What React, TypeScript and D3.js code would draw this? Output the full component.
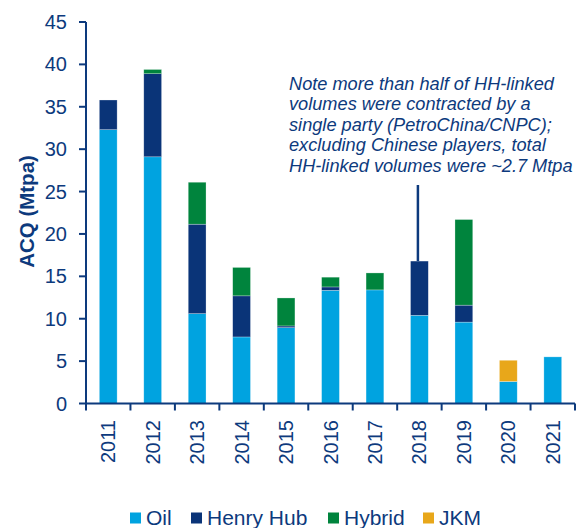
import React from "react";
import * as d3 from "d3";

const years = ["2011", "2012", "2013", "2014", "2015", "2016", "2017", "2018", "2019", "2020", "2021"];
const oil = [32.3, 29.1, 10.6, 7.85, 8.95, 13.35, 13.4, 10.4, 9.6, 2.6, 5.5];
const henryHub = [3.5, 9.8, 10.55, 4.85, 0.2, 0.4, 0, 6.4, 2.0, 0, 0];
const hybrid = [0, 0.5, 4.95, 3.35, 3.3, 1.15, 2.0, 0, 10.1, 0, 0];
const jkm = [0, 0, 0, 0, 0, 0, 0, 0, 0, 2.5, 0];
const seriesNames = ["Oil", "Henry Hub", "Hybrid", "JKM"];
const colors = ["#00a3e0", "#0a3478", "#00843d", "#e8a71a"];
const yTicks = [0, 5, 10, 15, 20, 25, 30, 35, 40, 45];
const note = [
  "Note more than half of HH-linked",
  "volumes were contracted by a",
  "single party (PetroChina/CNPC);",
  "excluding Chinese players, total",
  "HH-linked volumes were ~2.7 Mtpa",
];

const navy = "#0d3a7d";
const font = "'Liberation Sans', Arial, sans-serif";

const App = () => {
  const left = 86, right = 575, top = 22, bottom = 403.5;
  const x = d3.scaleBand().domain(years).range([left, right]).paddingInner(0.6).paddingOuter(0.3);
  const y = d3.scaleLinear().domain([0, 45]).range([bottom, top]);

  const rows = years.map((yr, i) => ({ year: yr, Oil: oil[i], "Henry Hub": henryHub[i], Hybrid: hybrid[i], JKM: jkm[i] }));
  const stacked = d3.stack().keys(seriesNames)(rows as any);

  const step = (right - left) / years.length;
  const boundaries = d3.range(years.length + 1).map((i) => left + i * step);
  const noteYear = "2018";
  const noteIdx = years.indexOf(noteYear);
  const noteTop = oil[noteIdx] + henryHub[noteIdx] + hybrid[noteIdx] + jkm[noteIdx];

  const legendX = [130, 191, 328, 423];

  return (
    <div style={{ position: "absolute", left: 0, top: 0 }}>
      <svg width={586} height={528} style={{ display: "block", background: "#fff" }}>
        {/* bars */}
        {stacked.map((s, si) => (
          <g key={seriesNames[si]} fill={colors[si]}>
            {s.map((d, i) =>
              d[1] - d[0] > 0 ? (
                <rect
                  key={i}
                  x={x(years[i])!}
                  width={x.bandwidth()}
                  y={y(d[1])}
                  height={y(d[0]) - y(d[1])}
                  stroke="#ffffff"
                  strokeOpacity={0.45}
                  strokeWidth={0.6}
                />
              ) : null
            )}
          </g>
        ))}

        {/* y axis */}
        <line x1={left} x2={left} y1={top} y2={bottom} stroke={navy} strokeWidth={2} />
        {yTicks.map((t) => (
          <g key={t}>
            <line x1={left - 7} x2={left} y1={y(t)} y2={y(t)} stroke={navy} strokeWidth={2} />
            <text x={67} y={y(t)} dy="0.35em" textAnchor="end" fontFamily={font} fontSize={20} fill={navy}>
              {t}
            </text>
          </g>
        ))}
        <text
          transform={`translate(34,211.5) rotate(-90)`}
          textAnchor="middle"
          fontFamily={font}
          fontSize={20.5}
          fontWeight="bold"
          fill={navy}
        >
          ACQ (Mtpa)
        </text>

        {/* x axis */}
        <line x1={left} x2={right} y1={bottom} y2={bottom} stroke={navy} strokeWidth={2} />
        {boundaries.map((bx, i) => (
          <line key={i} x1={bx} x2={bx} y1={bottom} y2={bottom + 7} stroke={navy} strokeWidth={2} />
        ))}
        {years.map((yr) => (
          <text
            key={yr}
            transform={`translate(${x(yr)! + x.bandwidth() / 2},420) rotate(-90)`}
            textAnchor="end"
            dy="0.35em"
            fontFamily={font}
            fontSize={20}
            fill={navy}
          >
            {yr}
          </text>
        ))}

        {/* annotation */}
        <line
          x1={x(noteYear)! + x.bandwidth() / 2 - 1.5}
          x2={x(noteYear)! + x.bandwidth() / 2 - 1.5}
          y1={185}
          y2={y(noteTop)}
          stroke={navy}
          strokeWidth={2.5}
        />
        {note.map((line, i) => (
          <text key={i} x={289} y={89.5 + i * 20.5} fontFamily={font} fontSize={18.2} fontStyle="italic" fill={navy}>
            {line}
          </text>
        ))}

        {/* legend */}
        {seriesNames.map((name, i) => (
          <g key={name}>
            <rect x={legendX[i]} y={512.5} width={11} height={11} fill={colors[i]} />
            <text x={legendX[i] + 16} y={524.5} fontFamily={font} fontSize={21} fill={navy}>
              {name}
            </text>
          </g>
        ))}
      </svg>
    </div>
  );
};

export default App;
